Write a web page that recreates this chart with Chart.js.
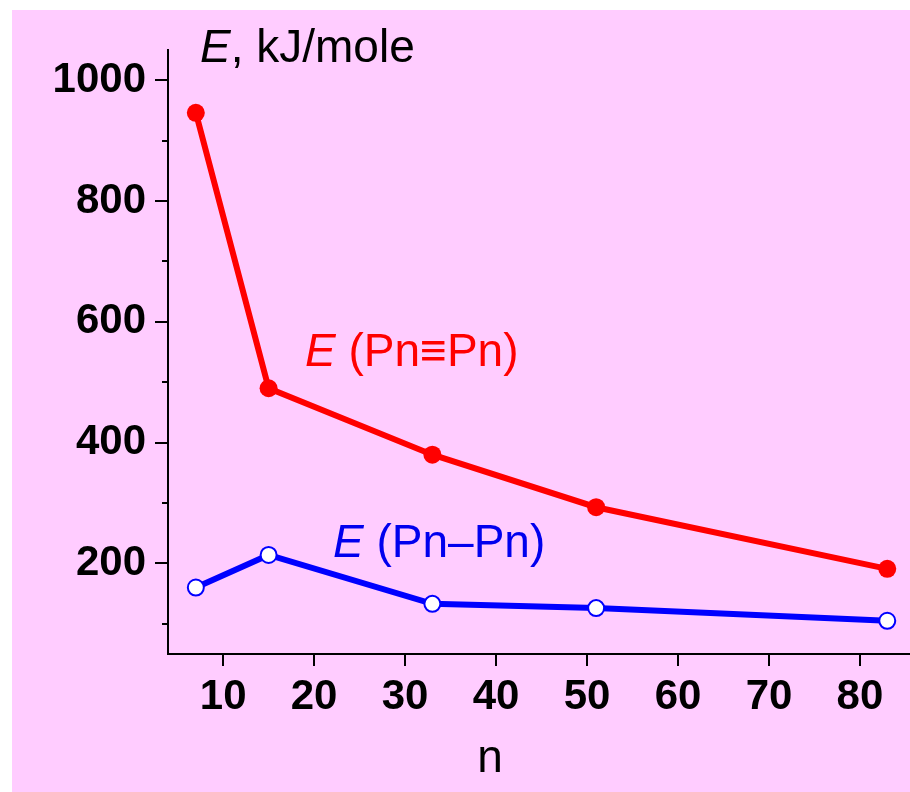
<!DOCTYPE html>
<html>
<head>
<meta charset="utf-8">
<script src="https://cdn.jsdelivr.net/npm/chart.js@4.4.1/dist/chart.umd.min.js"></script>
<style>
  html, body { margin:0; padding:0; background:#fff; }
  #wrap { width:910px; height:792px; position:relative; }
</style>
</head>
<body>
<div id="wrap"><canvas id="c" width="910" height="792"></canvas></div>
<script>
const nValues = [7, 15, 33, 51, 83];
const tripleE = [946, 490, 380, 293, 191];
const singleE = [160, 214, 133, 126, 105];
const xTicks = [10, 20, 30, 40, 50, 60, 70, 80];
const yTicks = [200, 400, 600, 800, 1000];
const yMinor = [100, 300, 500, 700, 900];

const FONT = "'Liberation Sans', Arial, sans-serif";
const PINK = "#ffccff";

const bgPlugin = {
  id: "bg",
  beforeDraw(chart){
    const ctx = chart.ctx;
    ctx.save();
    ctx.fillStyle = PINK;
    ctx.fillRect(12, 10, chart.width - 12, chart.height - 10);
    ctx.restore();
  }
};

// short ticks at the odd hundreds on y
const minorPlugin = {
  id: "minor",
  afterDraw(chart){
    const ctx = chart.ctx, y = chart.scales.y;
    ctx.save();
    ctx.strokeStyle = "#000";
    ctx.lineWidth = 2;
    yMinor.forEach(v => {
      const py = Math.round(y.getPixelForValue(v));
      ctx.beginPath();
      ctx.moveTo(y.right - 6, py);
      ctx.lineTo(y.right, py);
      ctx.stroke();
    });
    ctx.restore();
  }
};

function labelE(ctx, x, y, rest, color){
  ctx.fillStyle = color;
  ctx.textBaseline = "alphabetic";
  ctx.textAlign = "left";
  ctx.font = "italic 46px " + FONT;
  ctx.fillText("E", x, y);
  const w = ctx.measureText("E").width;
  ctx.font = "46px " + FONT;
  ctx.fillText(rest, x + w, y);
}

const textPlugin = {
  id: "texts",
  afterDraw(chart){
    const ctx = chart.ctx;
    ctx.save();
    labelE(ctx, 200, 62, ", kJ/mole", "#000");
    labelE(ctx, 305, 366, " (Pn\u2261Pn)", "#ff0000");
    labelE(ctx, 333, 557, " (Pn\u2013Pn)", "#0000ee");
    ctx.font = "46px " + FONT;
    ctx.textAlign = "center";
    ctx.fillStyle = "#000";
    ctx.fillText("n", 490, 772);
    ctx.restore();
  }
};

new Chart(document.getElementById("c"), {
  type: "line",
  data: {
    datasets: [
      {
        data: nValues.map((n, i) => ({ x: n, y: tripleE[i] })),
        borderColor: "#ff0000",
        backgroundColor: "#ff0000",
        borderWidth: 6,
        pointRadius: 9,
        pointBorderWidth: 0,
        pointBackgroundColor: "#ff0000"
      },
      {
        data: nValues.map((n, i) => ({ x: n, y: singleE[i] })),
        borderColor: "#0000ff",
        backgroundColor: "#ffffff",
        borderWidth: 6,
        pointRadius: 8,
        pointBorderWidth: 2,
        pointBackgroundColor: "#ffffff",
        pointBorderColor: "#0000ff"
      }
    ]
  },
  options: {
    responsive: false,
    animation: false,
    layout: { autoPadding: false, padding: { left: 12, top: 50, right: 0, bottom: 0 } },
    plugins: { legend: { display: false }, tooltip: { enabled: false } },
    scales: {
      x: {
        type: "linear",
        min: 3.94,
        max: 85.5,
        afterBuildTicks: s => { s.ticks = xTicks.map(v => ({ value: v })); },
        afterFit: s => { s.height = 138; },
        border: { color: "#000", width: 2 },
        grid: { drawOnChartArea: false, tickLength: 12, color: "#000", lineWidth: 2 },
        ticks: { color: "#000", padding: 6, font: { family: FONT, size: 42, weight: "bold" } }
      },
      y: {
        type: "linear",
        min: 50,
        max: 1050,
        afterBuildTicks: s => { s.ticks = yTicks.map(v => ({ value: v })); },
        afterFit: s => { s.width = 156; },
        border: { color: "#000", width: 2 },
        grid: { drawOnChartArea: false, tickLength: 13, color: "#000", lineWidth: 2 },
        ticks: { color: "#000", padding: 9, callback: v => String(v), font: { family: FONT, size: 42, weight: "bold" } }
      }
    }
  },
  plugins: [bgPlugin, minorPlugin, textPlugin]
});
</script>
</body>
</html>
